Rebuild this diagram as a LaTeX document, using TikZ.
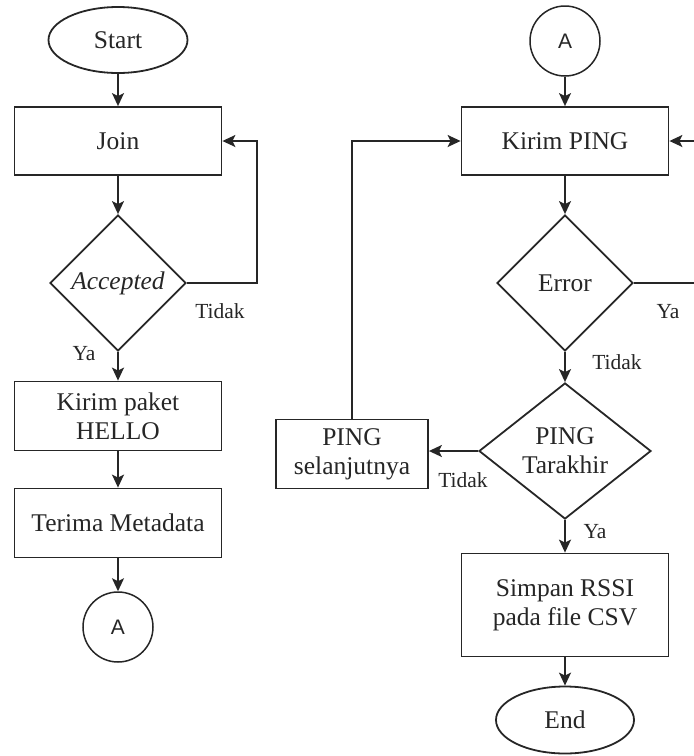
\documentclass[tikz,border=0pt]{standalone}
\usepackage{fontspec}
\setmainfont{Liberation Serif}
\newfontfamily\arialfont{Liberation Sans}
\usetikzlibrary{shapes.geometric,arrows.meta,calc}
\begin{document}
\begin{tikzpicture}[x=1pt,y=-1pt,
  every node/.style={font=\fontsize{25.5}{29}\selectfont, text=black!85, inner sep=0pt},
  ln/.style={line width=1.8pt, draw=black!85},
  arr/.style={ln, -{Stealth[length=13pt,width=12pt,inset=3pt]}},
  proc/.style={draw=black!85, line width=1.8pt, rectangle, minimum width=207pt, minimum height=68pt, align=center},
  term/.style={draw=black!85, line width=1.8pt, ellipse, minimum width=139pt, minimum height=66pt},
  conn/.style={draw=black!85, line width=1.5pt, circle, minimum size=70pt, font=\arialfont\fontsize{21}{23}\selectfont},
  dec/.style={draw=black!85, line width=1.8pt, diamond, aspect=1, minimum width=136pt, minimum height=136pt, align=center},
  lbl/.style={font=\fontsize{21.5}{23}\selectfont}
]
\useasboundingbox (0,0) rectangle (694,756);
% left column
\node[term] (start) at (118,40) {Start};
\node[proc] (join) at (118,141) {Join};
\node[dec] (acc) at (118,283) {\textit{Accepted}};
\node[proc, minimum height=69pt] (hello) at (118,416) {Kirim paket\\HELLO};
\node[proc, minimum height=69pt] (meta) at (118,523) {Terima Metadata};
\node[conn] (a1) at (118,627) {A};
% right column
\node[conn] (a2) at (565,41) {A};
\node[proc] (ping) at (565,141) {Kirim PING};
\node[dec] (err) at (565,283) {Error};
\node[dec, minimum width=172pt] (last) at (565,451) {PING\\Tarakhir};
\node[proc, minimum width=152pt, minimum height=69pt] (next) at (352,454) {PING\\selanjutnya};
\node[proc, minimum height=103pt] (simpan) at (565,605) {Simpan RSSI\\pada file CSV};
\node[term, minimum width=138pt, minimum height=67pt] (end) at (565,720) {End};
\coordinate (eR) at (694,283);
\coordinate (pR) at (694,141);
% connectors
\draw[arr] (start) -- (join);
\draw[arr] (join) -- (acc);
\draw[arr] (acc.east) -- ([xshift=70pt]acc.east) |- (join.east);
\draw[arr] (acc) -- (hello);
\draw[arr] (hello) -- (meta);
\draw[arr] (meta) -- (a1);
\draw[arr] (a2) -- (ping);
\draw[arr] (ping) -- (err);
\draw[arr] (err) -- (last);
\draw[arr] (last) -- (simpan);
\draw[arr] (simpan) -- (end);
\draw[arr] (last.west) -- (last.west -| next.east);
\draw[arr] (next.north) |- (ping.west);
\draw[ln] (err.east) -- (eR);
\draw[arr] (pR) -- (ping.east);
% labels
\node[lbl] (t1) at (220,311) {Tidak};
\node[lbl] (y1) at (84,354) {Ya};
\node[lbl] (y2) at (668,312) {Ya};
\node[lbl] (t2) at (617,362) {Tidak};
\node[lbl] (t3) at (463,480) {Tidak};
\node[lbl] (y3) at (595,532) {Ya};
\end{tikzpicture}
\end{document}
